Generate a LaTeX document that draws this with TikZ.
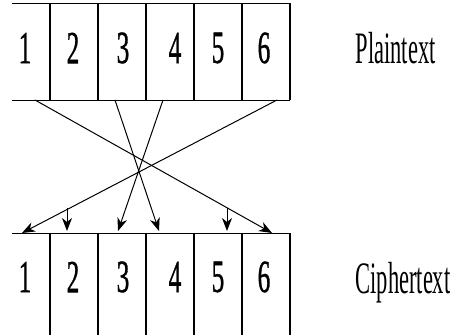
\documentclass[tikz,border=0pt]{standalone}
\usepackage{fontspec}
\setmainfont{Liberation Serif}
\newfontfamily\digfont[FakeBold=1.2]{Liberation Serif}
\usepackage{graphicx}
\usetikzlibrary{arrows.meta}
\begin{document}
\begin{tikzpicture}[x=1pt,y=-1pt,line width=1pt,
  dig/.style={inner sep=0pt,font=\digfont\fontsize{46}{46}\selectfont},
  word/.style={inner sep=0pt,anchor=base west,font=\fontsize{45}{45}\selectfont},
  arr/.style={-{Stealth[length=13pt,width=10pt,inset=4pt]},line width=1pt},
  divider/.style={line width=1.2pt}]
\useasboundingbox (0,0) rectangle (450,335);
% top row
\draw (12,3) -- (290,3);
\draw (12,100) -- (290,100);
\foreach \x in {50,98,146,194,242,290} \draw[divider] (\x,3) -- (\x,100);
% bottom row
\draw (12,233) -- (290,233);
\foreach \x in {50,98,146,194,242,290} \draw[divider] (\x,233) -- (\x,335);
% digits
\foreach \d/\x in {1/25,2/73,3/123,4/175,5/218,6/264} {
  \node[dig] (p\d) at (\x,48) {\scalebox{0.55}[1]{\d}};
  \node[dig] (c\d) at (\x,277) {\scalebox{0.55}[1]{\d}};
}
% labels
\node[word] (pt) at (355,63) {\scalebox{0.5}[1]{Plaintext}};
\node[word] (ct) at (355,293) {\scalebox{0.5}[1]{Ciphertext}};
% connector endpoints
\coordinate (s1) at (35,100);
\coordinate (s3) at (115,100);
\coordinate (s4) at (163,100);
\coordinate (s6) at (277,100);
\coordinate (s2) at (67,208);
\coordinate (s5) at (227,208);
\coordinate (e1) at (22,233);
\coordinate (e2) at (67,231);
\coordinate (e3) at (118,231);
\coordinate (e4) at (159,231);
\coordinate (e5) at (227,231);
\coordinate (e6) at (272,233);
\draw[arr] (s1) -- (e6);
\draw[arr] (s6) -- (e1);
\draw[arr] (s3) -- (e4);
\draw[arr] (s4) -- (e3);
\draw[arr] (s2) -- (e2);
\draw[arr] (s5) -- (e5);
\end{tikzpicture}
\end{document}
